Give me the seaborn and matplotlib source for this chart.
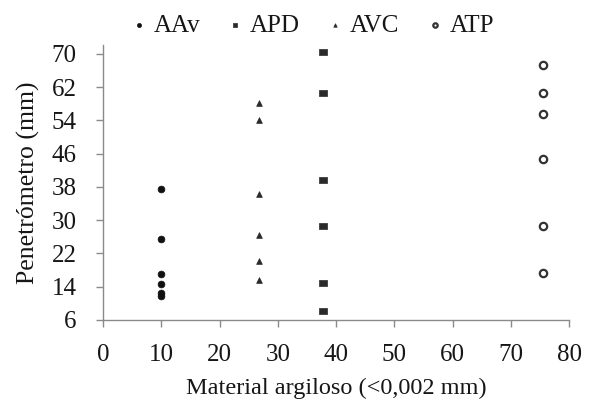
import matplotlib
matplotlib.use("Agg")
import matplotlib.pyplot as plt
import seaborn as sns
import pandas as pd

# Clay content (x) and penetrometer readings (y) for each soil group
aav_x = [10, 10, 10, 10, 10, 10]
aav_y = [37.5, 25.5, 17.0, 14.6, 12.4, 11.7]

apd_x = [37.8, 37.8, 37.8, 37.8, 37.8, 37.8]
apd_y = [70.4, 60.7, 39.7, 28.5, 14.8, 8.2]

avc_x = [26.7, 26.7, 26.7, 26.7, 26.7, 26.7]
avc_y = [58.1, 54.1, 36.4, 26.5, 20.1, 15.5]

atp_x = [75.6, 75.6, 75.6, 75.6, 75.6, 75.6]
atp_y = [67.4, 60.5, 55.5, 44.8, 28.5, 17.2]

series_names = ["AAv", "APD", "AVC", "ATP"]
x_ticks = [0, 10, 20, 30, 40, 50, 60, 70, 80]
y_ticks = [6, 14, 22, 30, 38, 46, 54, 62, 70]

frames = []
for name, xs, ys in zip(series_names, [aav_x, apd_x, avc_x, atp_x],
                        [aav_y, apd_y, avc_y, atp_y]):
    frames.append(pd.DataFrame({"argila": xs, "pen": ys, "grupo": name}))
df = pd.concat(frames, ignore_index=True)

sns.set_style("white")
plt.rcParams["font.family"] = ["Liberation Serif", "DejaVu Serif"]

fig = plt.figure(figsize=(5.94, 4.07), dpi=100)
ax = fig.add_axes([0.1734, 0.2138, 0.958 - 0.1734, 0.890 - 0.2138])

# flat rectangular marker for the APD group
rect = [(-1, -0.75), (1, -0.75), (1, 0.75), (-1, 0.75), (-1, -0.75)]
styles = {
    "AAv": dict(marker="o", s=24, color="#111111", edgecolor="#111111", linewidth=0.5),
    "APD": dict(marker=rect, s=26, color="#2a2a2a", edgecolor="#2a2a2a", linewidth=0.5),
    "AVC": dict(marker="^", s=17, color="#2a2a2a", edgecolor="#2a2a2a", linewidth=0.5),
    "ATP": dict(marker="o", s=28, color="white", edgecolor="#333333", linewidth=1.6),
}

for name in series_names:
    sub = df[df["grupo"] == name]
    sns.scatterplot(data=sub, x="argila", y="pen", ax=ax, label=name, **styles[name])

ax.set_xlim(0, 80)
ax.set_ylim(6, 72.2)
ax.set_xticks(x_ticks)
ax.set_yticks(y_ticks)

spine_col = "#8a8a8a"
for side in ["top", "right"]:
    ax.spines[side].set_visible(False)
for side in ["left", "bottom"]:
    ax.spines[side].set_color(spine_col)
    ax.spines[side].set_linewidth(1.0)

text_col = "#161616"
ax.tick_params(axis="both", direction="out", length=5, width=1.0, color=spine_col,
               labelsize=18, labelcolor=text_col, left=True, bottom=True)
ax.tick_params(axis="y", pad=14)
ax.tick_params(axis="x", pad=12.5)

ax.set_xlabel("Material argiloso (<0,002 mm)", fontsize=17.5, color=text_col, labelpad=8)
ax.set_ylabel("Penetrómetro (mm)", fontsize=18.5, color=text_col, labelpad=8)

handles, labels = ax.get_legend_handles_labels()
ax.legend_.remove()
fig.legend(handles, labels, loc="upper center", bbox_to_anchor=(0.524, 1.02), ncol=4,
           frameon=False, fontsize=18, markerscale=0.6, handletextpad=0.2,
           columnspacing=1.0, handlelength=0.8, labelcolor=text_col)

fig.savefig("out.png", dpi=100)
